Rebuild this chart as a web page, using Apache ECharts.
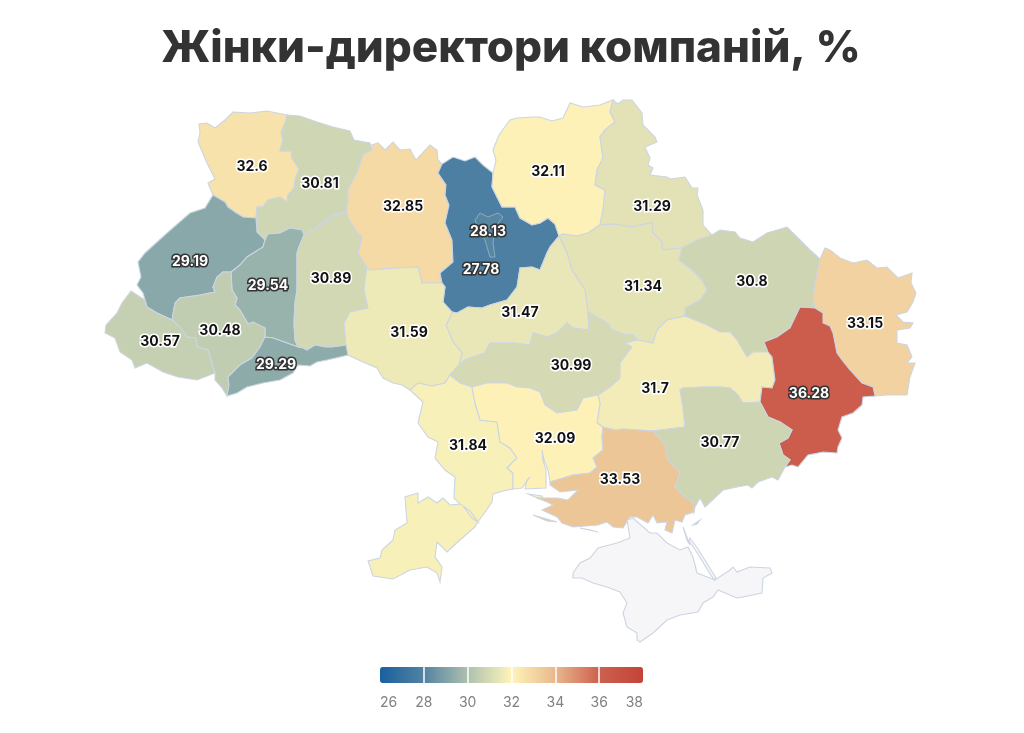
<!DOCTYPE html>
<html><head><meta charset="utf-8">
<style>html,body{margin:0;padding:0;background:#fff}#c{width:1024px;height:733px}</style>
<script src="https://cdn.jsdelivr.net/npm/echarts@6/dist/echarts.min.js"></script>
</head><body><div id="c"></div>
<script>
const chartTitle = 'Жінки-директори компаній, %';
const regionNames = ['Волинська','Рівненська','Житомирська','Київська','Київ','Чернігівська','Сумська','Львівська','Тернопільська','Хмельницька','Харківська','Полтавська','Луганська','Черкаська','Івано-Франківська','Закарпатська','Вінницька','Кіровоградська','Чернівецька','Дніпропетровська','Донецька','Одеська','Миколаївська','Запорізька','Херсонська'];
const regionValues = [32.6,30.81,32.85,27.78,28.13,32.11,31.29,29.19,29.54,30.89,30.8,31.34,33.15,31.47,30.48,30.57,31.59,30.99,29.29,31.7,36.28,31.84,32.09,30.77,33.53];
const labelAnchors = [[252,167],[320,184],[403,207],[481,270],[488,232],[548,172],[652,207],[190,262],[268,286],[331,279],[752,282],[643,287],[865,324],[520,313],[220,331],[160,342],[409,333],[571,366],[276,365],[655,389],[809,394],[468,446],[555,439],[720,443],[620,480]];
const scaleStops = [26,28,30,32,34,36,38];
const scaleColors = ['#18609f','#5283a1','#adc1ae','#fff4ba','#e8b88c','#cd604e','#c3443a'];

// Shared outline pieces of the map, in map units
const arcs = {
VR:'287,115 285,123 281,132 283,140 280,151 291,151 292,158 299,169 295,180 294,188 288,195 287,202 280,197 268,200 263,207 257,207 256,218',
VL:'256,218 243,217 235,212 228,207 225,202 213,195',
Vo:'213,195 208,183 215,179 207,163 198,142 200,133 199,124 207,123 215,128 225,120 233,112 250,113 267,111 277,113 287,115',
Ro:'287,115 300,116 317,122 333,127 350,131 354,140 370,143 372,150',
RZ:'372,150 363,155 358,170 348,190 348,202 346,211',
RK:'346,211 335,214 327,218 317,227 304,235',
RT:'304,235 302,230 290,228 280,233 268,234 265,240',
RL:'265,240 257,232 256,218',
Lo:'213,195 205,208 190,213 167,233 145,253 138,262 141,277 137,285 143,293 145,300',
LZ:'145,300 147,307 157,313 172,320',
LI:'172,320 175,303 180,298 200,295 215,292 213,287 217,277 223,272 231,272',
LT:'231,272 240,265 247,257 263,247 265,240',
TK:'304,235 299,247 297,253 297,290 295,303 294,323 295,340 298,347',
TC:'298,347 287,343 273,338 265,337',
TI:'265,337 265,328 253,322 248,324 240,310 235,305 237,298 232,290 231,272',
IC:'265,337 260,347 252,358 240,365 228,377 229,385 227,396',
ZI:'172,320 180,327 187,337 196,338 197,347 208,350 215,373',
Io:'215,373 215,380 222,388 227,396',
Zo:'215,373 197,380 178,377 163,372 147,363 135,368 132,360 120,352 115,338 105,333 106,325 117,313 122,303 131,291 145,300',
Co:'227,396 237,393 247,387 263,383 280,380 293,373 298,365 310,366 317,362 327,360 340,357 348,355',
CV:'348,355 346,345',
CK:'346,345 340,346 332,347 325,347 315,345 307,350 303,348 298,347',
KV:'346,345 344,323 350,312 368,308 364,290 365,280 367,268',
KZ:'367,268 358,253 362,237 357,233 348,218 346,211',
Zt:'372,150 372,145 378,143 385,150 393,142 400,150 410,149 416,160 430,145 437,150 438,160 442,164',
ZK:'442,164 438,173 446,185 445,195 449,205 445,223 452,240 453,262 440,273 442,283',
ZV:'442,283 422,283 418,267 397,268 370,270 367,268',
Kt:'442,164 453,157 465,161 475,157 483,165 493,173',
KC:'493,173 492,187 497,197 502,207 515,207 520,218 532,225 540,223 548,218 555,224 559,236',
KCh:'559,236 550,247 547,253 540,270 532,267 520,268 517,287 507,300 490,305 482,308 468,307 457,313 452,312',
KV2:'452,312 443,302 445,287 442,283',
Cho:'493,173 496,160 493,150 499,135 510,120 517,118 533,117 540,117 552,121 563,118 570,103 583,107 600,105 613,100',
ChS:'613,100 610,112 615,122 605,130 600,137 603,158 597,170 595,185 605,190 603,210 600,225',
ChP:'600,225 588,233 577,236 563,234 559,236',
So:'613,100 618,104 623,100 632,100 642,113 643,125 655,137 657,142 645,147 650,158 648,165 653,168 650,175 667,177 670,179 685,177 692,188 698,188 697,195 703,210 703,225 712,235',
SKh:'712,235 697,240 682,248',
SP:'682,248 662,250 662,242 653,233 652,223 640,225 632,227 612,224 600,225',
PKh:'682,248 679,260 692,270 702,280 707,290 700,300 685,308 685,316',
PD:'685,316 667,320 657,330 653,343 637,340',
PKi:'637,340 633,335 627,335 612,330 607,323 588,312',
PCh:'588,312 585,290 572,270 567,253 559,236',
Kho:'712,235 720,230 735,232 740,238 753,242 767,233 787,227 797,237 810,250 820,259',
KhL:'820,259 817,273 813,297 815,308',
KhDon:'815,308 800,307 790,328 777,337 764,342 768,352',
KhD:'768,352 753,352 747,357 737,340 730,332 720,332 707,325 685,316',
Lho:'820,259 825,248 830,250 840,258 853,263 867,260 877,268 887,267 898,278 912,273 911,283 916,293 913,302 907,312 896,315 903,322 913,323 910,328 897,330 897,343 907,345 912,357 907,363 915,363 910,377 907,395 887,395 875,396',
LDon:'875,396 873,387 862,383 850,370 842,360 837,353 833,333 830,326 823,323 823,313 815,308',
DonD:'768,352 772,357 775,380 772,388 762,387 760,402',
DonZ:'760,402 768,417 780,422 792,430 788,438 779,443 783,455 790,460 785,467',
Dono:'785,467 792,465 798,467 808,455 823,452 837,453 838,447 842,438 838,430 842,417 853,413 862,405 863,397 875,396',
DKi:'637,340 625,343 632,347 620,363 620,378 610,387 598,395',
DM:'598,395 600,403 597,423 603,427',
DKhe:'603,427 615,430 623,429 653,431',
DZ:'653,431 685,427 683,407 680,390 683,388 703,387 720,387 730,388 738,395 743,403 760,402',
Zapo:'785,467 778,480 772,477 758,482 752,488 748,485 737,487 723,490 705,507 700,498 695,507 694,512',
ZKhe:'694,512 693,502 685,497 675,487 680,473 668,460 665,445 653,431',
Kheo:'694,512 685,515 682,522 675,520 672,533 665,530 667,522 657,523 653,515 648,523 637,517 630,517 623,528 613,527 607,522 598,525 573,527 562,523 557,517 542,510 553,505 547,502 537,498 557,498 568,500 578,490 560,492 550,485 550,482',
MK:'550,482 573,475 590,473 597,467 593,458 603,450 602,437 603,427',
Mo:'550,482 548,470 544,460 542,450 543,461 546,470 546,488 525,489 527,480 530,477 522,488 513,489',
OM:'513,489 513,473 507,468 517,458 510,448 500,442 497,422 480,420 475,403 472,387',
KiM:'472,387 487,383 507,383 517,387 530,388 540,392 545,405 557,413 577,410 583,398 598,395',
OK:'472,387 460,383 450,375',
VKi:'450,375 459,365',
CK2:'459,365 465,360 485,353 490,343 513,343 530,345 533,333 547,337 557,333 567,323 573,328 589,330 588,312',
VCh:'459,365 462,353 453,342 446,325 450,317 452,312',
VO:'450,375 445,383 432,386 418,383 410,390',
Vo2:'410,390 402,385 393,383 383,378 377,368 363,362 352,357 348,355',
Oo:'410,390 423,402 418,423 428,437 438,442 435,458 445,470 455,477 454,498 460,504 450,505 443,498 437,503 428,497 418,503 418,493 405,497 407,523 395,530 393,540 382,550 380,558 368,561 373,576 393,579 410,570 427,567 437,573 440,582 442,567 435,557 437,542 447,552 460,540 475,527 477,523 483,515 492,502 493,494 503,491 513,489'
};
const rings = {
'Волинська':['VR','VL','Vo'],
'Рівненська':['Ro','RZ','RK','RT','RL','-VR'],
'Львівська':['VL','Lo','LZ','LI','LT','RL'],
'Тернопільська':['-RT','TK','TC','TI','LT'],
'Івано-Франківська':['LI','-TI','IC','-Io','-ZI'],
'Закарпатська':['ZI','Zo','LZ'],
'Чернівецька':['IC','Co','CV','CK','TC'],
'Хмельницька':['TK','-CK','KV','KZ','-RK'],
'Житомирська':['Zt','ZK','ZV','KZ','-RZ'],
'Київська':['Kt','KC','KCh','KV2','-ZK'],
'Чернігівська':['Cho','ChS','ChP','-KC'],
'Сумська':['So','SKh','SP','-ChS'],
'Полтавська':['-SP','PKh','PD','PKi','PCh','-ChP'],
'Харківська':['Kho','KhL','KhDon','KhD','-PKh','-SKh'],
'Луганська':['Lho','LDon','-KhL'],
'Донецька':['KhDon','DonD','DonZ','Dono','LDon'],
'Дніпропетровська':['KhD','PD','DKi','DM','DKhe','DZ','-DonD'],
'Запорізька':['DonZ','Zapo','ZKhe','DZ'],
'Херсонська':['DKhe','-ZKhe','Kheo','MK'],
'Миколаївська':['DM','-MK','Mo','OM','KiM'],
'Кіровоградська':['-PKi','DKi','-KiM','OK','VKi','CK2'],
'Черкаська':['-KCh','-PCh','-CK2','VCh'],
'Вінницька':['-KV2','-VCh','-VKi','VO','Vo2','CV','KV','-ZV'],
'Одеська':['OK','VO','Oo','OM']
};
const extraPolys = {
'Київ':['480,213 488,217 498,213 503,217 495,227 493,243 495,257 490,257 485,240 478,228 475,220'],
'Миколаївська':['528,494 542,496 543,498 535,497'],
'Херсонська':['533,515 557,522 547,521','580,528 598,532 590,530','693,525 700,520 697,524','683,527 690,545 687,540'],
'Crimea':['573,573 580,563 590,558 598,548 617,543 630,538 627,520 633,518 650,533 657,533 667,543 680,550 688,547 693,557 697,573 715,580 730,570 733,567 737,572 750,567 770,568 772,573 763,578 762,593 743,597 737,598 718,590 713,597 703,603 698,612 680,615 667,620 653,633 640,642 637,640 637,633 627,627 623,613 627,603 620,592 607,587 593,583 582,578 573,578','690,538 698,549 716,578 714,580 696,551 689,541']
};
const holes = {'Одеська':['463,506 470,511 478,522 472,518']};

const parse = s => s.split(' ').map(p => p.split(',').map(Number));
function ring(list){
  const out=[];
  list.forEach(k=>{
    const rev=k[0]==='-'; let pts=parse(arcs[rev?k.slice(1):k]); if(rev) pts=pts.reverse();
    pts.forEach(p=>{const l=out[out.length-1]; if(!l||l[0]!==p[0]||l[1]!==p[1]) out.push(p);});
  });
  const a=out[0],b=out[out.length-1];
  if(a[0]!==b[0]||a[1]!==b[1]) out.push(a);
  return out;
}
const closed = s => {const r=parse(s); r.push(r[0]); return r;};
const allNames = regionNames.concat(['Crimea']);
const features = allNames.map(n=>{
  const polys=[];
  if(rings[n]){
    const main=[ring(rings[n])];
    (holes[n]||[]).forEach(h=>main.push(closed(h).reverse()));
    polys.push(main);
  }
  (extraPolys[n]||[]).forEach(s=>polys.push([closed(s)]));
  const i=regionNames.indexOf(n);
  return {type:'Feature',properties:{name:n,cp:i>=0?labelAnchors[i]:undefined},geometry:{type:'MultiPolygon',coordinates:polys}};
});
echarts.registerMap('ua',{type:'FeatureCollection',features});

let minX=1e9,minY=1e9,maxX=-1e9,maxY=-1e9;
features.forEach(f=>f.geometry.coordinates.forEach(pl=>pl.forEach(r=>r.forEach(p=>{
  minX=Math.min(minX,p[0]);maxX=Math.max(maxX,p[0]);minY=Math.min(minY,p[1]);maxY=Math.max(maxY,p[1]);
}))));

const isDark = v => v<30 || v>35;
const labelFont = '"Inter","Roboto",sans-serif';
const mapData = regionNames.map((n,i)=>({
  name:n, value:regionValues[i],
  itemStyle: n==='Київ'?{borderColor:'#8fb0c4',borderWidth:1,opacity:.9}:undefined,
  label:{color:isDark(regionValues[i])?'#fff':'#111',textBorderColor:isDark(regionValues[i])?'#333':'#fff'}
}));
const chart = echarts.init(document.getElementById('c'),null,{renderer:'canvas'});
chart.setOption({
  animation:false,
  backgroundColor:'#fff',
  title:{text:chartTitle,left:506,top:22,textAlign:'center',textStyle:{fontFamily:labelFont,fontSize:44,fontWeight:800,color:'#333'}},
  grid:{left:380,top:667,width:263,height:16,containLabel:false},
  xAxis:{type:'value',min:scaleStops[0],max:scaleStops[scaleStops.length-1],interval:2,z:10,
    axisLine:{show:false},axisTick:{show:false},
    splitLine:{show:true,showMinLine:false,showMaxLine:false,lineStyle:{color:'#fff',width:1.5}},
    axisLabel:{margin:13,fontFamily:labelFont,fontSize:14,color:'#808080',alignMinLabel:'left',alignMaxLabel:'right',showMinLabel:true,showMaxLabel:true}},
  yAxis:{type:'value',show:false,min:0,max:1},
  visualMap:{type:'continuous',min:scaleStops[0],max:scaleStops[scaleStops.length-1],seriesIndex:0,orient:'horizontal',
    left:380,top:667,itemWidth:16,itemHeight:263,padding:0,text:null,calculable:false,hoverLink:false,showLabel:false,borderRadius:0,
    inRange:{color:scaleColors},z:4},
  series:[{
    type:'map',map:'ua',silent:true,roam:false,
    projection:{project:p=>p,unproject:p=>p},
    left:minX,top:minY,width:maxX-minX,height:maxY-minY,
    itemStyle:{areaColor:'#f6f6f8',borderColor:'#ccd5e2',borderWidth:1.1},
    emphasis:{disabled:true},select:{disabled:true},
    label:{show:true,fontFamily:labelFont,fontSize:14,fontWeight:700,textBorderWidth:3,
      formatter:p=>isNaN(p.value)?'':String(p.value)},
    data:mapData
  }]
});
</script></body></html>
